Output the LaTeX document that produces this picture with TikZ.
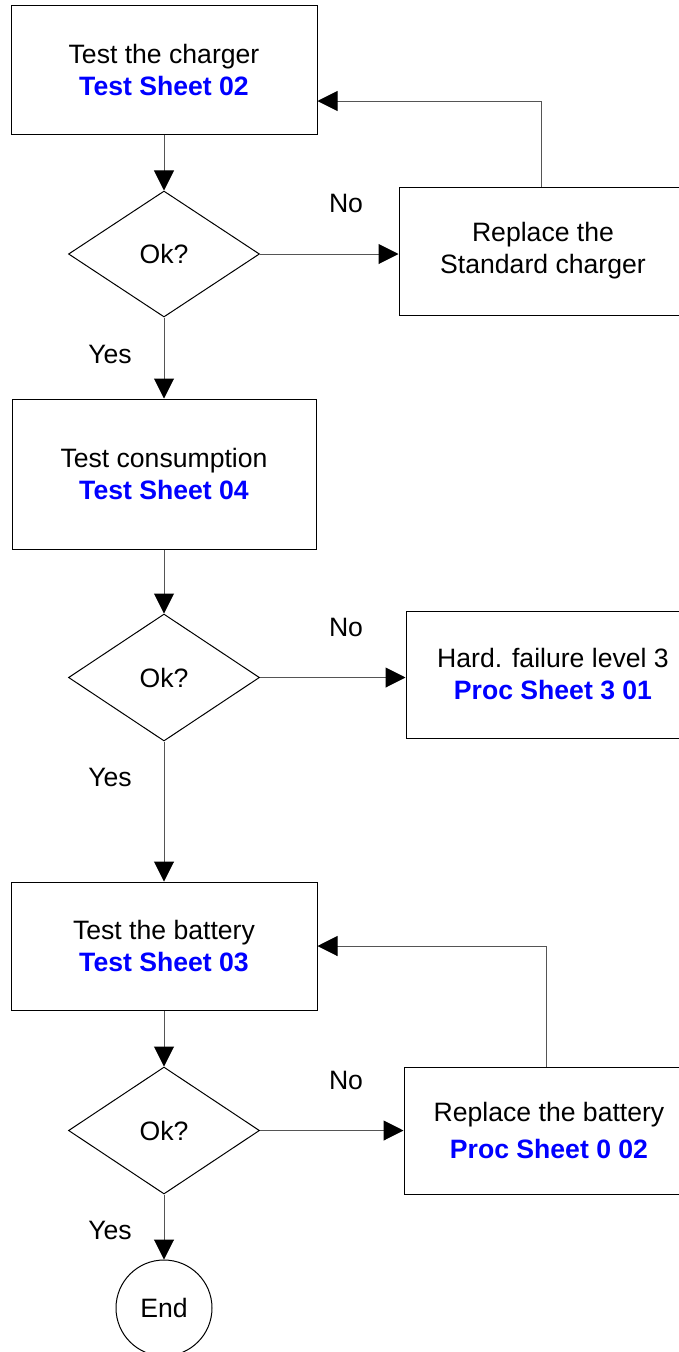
\documentclass[tikz,border=0pt]{standalone}
\usepackage{fontspec}
\setmainfont{Liberation Sans}
\usetikzlibrary{shapes.geometric, arrows.meta, positioning}
\definecolor{sheetblue}{HTML}{0000FF}
\definecolor{linegray}{HTML}{555555}

\begin{document}
\begin{tikzpicture}[x=1pt, y=-1pt, font=\fontsize{26.6}{32}\selectfont]
\tikzstyle{process} = [rectangle, minimum width=306pt, minimum height=129pt, text centered, align=center, draw=black, line width=1pt, inner sep=0pt]
\tikzstyle{decision} = [diamond, minimum width=191pt, minimum height=126pt, inner sep=0pt, draw=black, line width=1pt]
\tikzstyle{terminal} = [circle, minimum size=96pt, inner sep=0pt, draw=black, line width=1pt]
\tikzstyle{flow} = [-{Triangle[length=20pt, width=20pt, color=black]}, draw=linegray, line width=1pt]

\useasboundingbox (0,0) rectangle (679,1352);

% charger loop
\node (charger) [process] at (164,69.5) {Test the charger\\\textcolor{sheetblue}{\textbf{Test Sheet 02}}};
\node (ok1) [decision] at (164,254) {Ok?};
\node (stdcharger) [process, minimum width=288pt, minimum height=128pt] at (543,251) {Replace the\\Standard charger};

% consumption
\node (consumption) [process, minimum width=304pt, minimum height=150pt] at (164,474) {Test consumption\\\textcolor{sheetblue}{\textbf{Test Sheet 04}}};
\node (ok2) [decision, minimum height=127pt] at (164,677.5) {Ok?};
\node (hardfail) [process, minimum width=294pt, minimum height=127pt] at (553,674.5) {Hard. failure level 3\\\textcolor{sheetblue}{\textbf{Proc Sheet 3 01}}};

% battery loop
\node (battery) [process, minimum height=128pt] at (164,946) {Test the battery\\\textcolor{sheetblue}{\textbf{Test Sheet 03}}};
\node (ok3) [decision, minimum height=127pt] at (164,1130.5) {Ok?};
\node (newbattery) [process, minimum width=290pt, minimum height=127pt] at (549,1130.5) {Replace the battery\\[5pt]\textcolor{sheetblue}{\textbf{Proc Sheet 0 02}}};
\node (end) [terminal] at (164,1308) {End};

% labels
\node (no1) at (346,203) {No};
\node (yes1) at (110,354) {Yes};
\node (no2) at (346,627) {No};
\node (yes2) at (110,777) {Yes};
\node (no3) at (346,1080) {No};
\node (yes3) at (110,1230) {Yes};

\draw[flow] (charger) -- (ok1);
\draw[flow] (ok1.east) -- (ok1.east -| stdcharger.west);
\draw[flow] ([xshift=-2pt]stdcharger.north) |- ([yshift=-31.5pt]charger.east);
\draw[flow] (ok1) -- (consumption);
\draw[flow] (consumption) -- (ok2);
\draw[flow] (ok2.east) -- (ok2.east -| hardfail.west);
\draw[flow] (ok2) -- (battery);
\draw[flow] (battery) -- (ok3);
\draw[flow] (ok3) -- (newbattery);
\draw[flow] ([xshift=-3pt]newbattery.north) |- (battery.east);
\draw[flow] (ok3) -- (end);

\end{tikzpicture}
\end{document}
